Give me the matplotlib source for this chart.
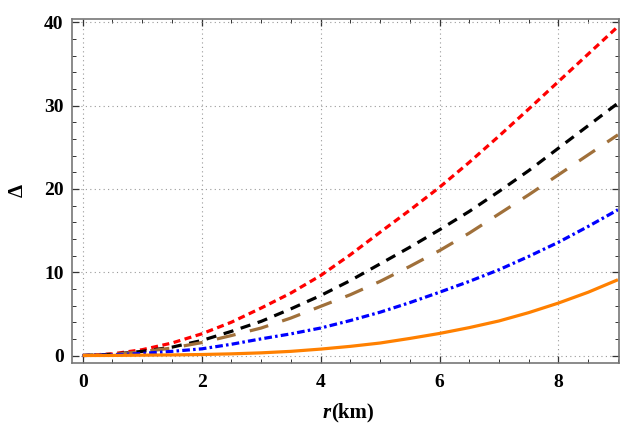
import numpy as np
import matplotlib.pyplot as plt
from matplotlib.ticker import MultipleLocator

r = [0, 0.5, 1, 1.5, 2, 2.5, 3, 3.5, 4, 4.5, 5, 5.5, 6, 6.5, 7, 7.5, 8, 8.5, 9]

delta_red = [0, 0.2, 0.7, 1.5, 2.6, 4.0, 5.7, 7.5, 9.6, 12.1, 14.8, 17.45,
             20.2, 23.2, 26.35, 29.6, 32.9, 36.2, 39.5]
delta_black = [0, 0.15, 0.5, 1.0, 1.8, 2.9, 4.1, 5.6, 7.2, 9.0, 11.0, 13.0,
               15.1, 17.3, 19.7, 22.2, 24.9, 27.6, 30.3]
delta_brown = [0, 0.12, 0.45, 0.9, 1.55, 2.4, 3.3, 4.5, 5.9, 7.3, 8.9, 10.7,
               12.6, 14.7, 17.0, 19.3, 21.7, 24.1, 26.5]
delta_blue = [0, 0.07, 0.25, 0.5, 0.8, 1.35, 2.0, 2.6, 3.3, 4.2, 5.2, 6.35,
              7.6, 8.9, 10.3, 11.9, 13.6, 15.5, 17.5]
delta_orange = [0, 0.01, 0.04, 0.07, 0.12, 0.2, 0.32, 0.5, 0.77, 1.1, 1.5, 2.05,
                2.65, 3.35, 4.15, 5.15, 6.3, 7.6, 9.1]

plt.rcParams['font.family'] = 'Liberation Serif'
plt.rcParams['font.weight'] = 'bold'

fig = plt.figure(figsize=(6.21, 4.23), dpi=100)
ax = fig.add_axes([0.116, 0.143, 0.881, 0.812])

lw = 2.3
ax.plot(r, delta_red, color='#ff0000', lw=lw, linestyle=(0, (2.2, 1.4)))
ax.plot(r, delta_black, color='black', lw=lw, linestyle=(0, (3.2, 2.4)))
ax.plot(r, delta_brown, color='#a0703a', lw=lw, linestyle=(0, (6.0, 4.6)))
ax.plot(r, delta_blue, color='#0000ff', lw=lw, linestyle=(0, (2.4, 1.0, 0.8, 1.0)))
ax.plot(r, delta_orange, color='#ff8000', lw=lw, solid_capstyle='butt')

ax.set_xlim(-0.18, 9.02)
ax.set_ylim(-0.84, 40.4)

ax.xaxis.set_major_locator(MultipleLocator(2))
ax.xaxis.set_minor_locator(MultipleLocator(0.5))
ax.yaxis.set_major_locator(MultipleLocator(10))
ax.yaxis.set_minor_locator(MultipleLocator(2))

ax.tick_params(which='both', direction='in', top=True, right=True,
               color='#333333', labelsize=14)
ax.tick_params(which='major', length=5, width=0.9)
ax.tick_params(which='minor', length=3, width=0.7)
ax.tick_params(axis='x', pad=8)
ax.tick_params(axis='y', pad=6)

for s in ax.spines.values():
    s.set_color('#777777')
    s.set_linewidth(1.2)

ax.grid(True, which='major', linestyle=(0, (1, 3)), color='#999999', lw=0.8)

# axis titles: italic r followed by upright (km)
fig.text(331 / 621, 0.012, 'r', fontsize=15, fontweight='bold',
         style='italic', ha='right', va='baseline')
fig.text(331 / 621, 0.012, '(km)', fontsize=15, fontweight='bold',
         ha='left', va='baseline')
fig.text(18 / 621, 1 - 190 / 423, 'Δ', fontsize=15, fontweight='bold',
         rotation=90, ha='center', va='center')

fig.savefig('out.png', dpi=100)
